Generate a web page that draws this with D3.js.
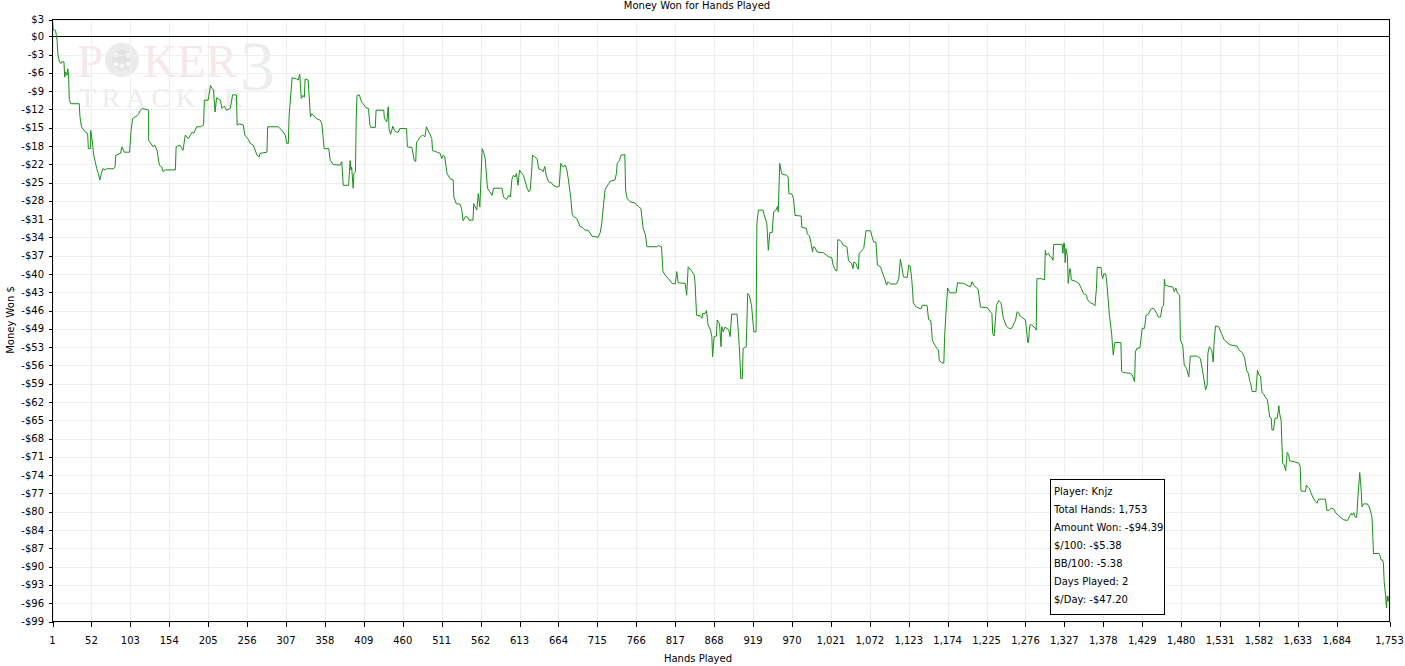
<!DOCTYPE html>
<html>
<head>
<meta charset="utf-8">
<script src="https://cdn.jsdelivr.net/npm/d3@7"></script>
<style>
	body { margin: 0; background: #fff; }
	svg { display: block; font-family: 'DejaVu Sans', sans-serif; font-size: 10px; }
</style>
</head>
<body>
<script>
// hand number / cumulative money won
const hands = [
	1, 2, 5, 7, 8, 10, 12, 13, 16, 17, 18, 20, 21, 22, 23, 25, 36, 37, 39, 44, 47, 48, 51, 51, 53, 55, 57, 59, 61, 63,
	65, 67, 70, 72, 81, 83, 84, 90, 92, 95, 102, 104, 106, 112, 114, 116, 119, 125, 127, 127, 133, 135, 138, 141, 144,
	146, 148, 162, 163, 168, 172, 175, 179, 184, 186, 190, 195, 199, 200, 205, 208, 210, 212, 214, 216, 221, 223, 226,
	229, 234, 237, 242, 243, 246, 251, 253, 258, 260, 264, 269, 272, 273, 282, 283, 297, 299, 301, 306, 308, 310, 311,
	315, 321, 323, 325, 327, 329, 331, 332, 336, 339, 341, 347, 352, 354, 357, 363, 365, 369, 378, 380, 382, 389, 391,
	392, 393, 395, 396, 398, 399, 400, 403, 406, 408, 412, 415, 417, 418, 424, 425, 435, 436, 439, 441, 442, 444, 447,
	449, 451, 454, 456, 465, 466, 472, 475, 477, 478, 480, 483, 486, 489, 491, 494, 496, 498, 499, 505, 509, 511, 513,
	515, 518, 522, 526, 527, 530, 535, 537, 539, 542, 545, 547, 552, 553, 557, 559, 561, 564, 566, 568, 571, 574, 577,
	579, 590, 592, 596, 599, 601, 603, 605, 607, 609, 611, 613, 616, 618, 623, 625, 627, 629, 630, 633, 636, 638, 642,
	644, 646, 648, 651, 655, 657, 662, 665, 667, 670, 673, 675, 677, 680, 682, 684, 688, 690, 692, 695, 699, 703, 708,
	716, 719, 721, 723, 725, 727, 730, 732, 738, 740, 741, 744, 746, 751, 752, 754, 758, 764, 769, 772, 775, 778, 780,
	793, 795, 799, 801, 804, 808, 813, 817, 819, 821, 830, 832, 834, 839, 842, 843, 845, 850, 852, 853, 856, 858, 860,
	863, 865, 866, 868, 871, 872, 875, 877, 878, 880, 882, 887, 889, 891, 898, 900, 901, 903, 905, 906, 910, 912, 914,
	917, 920, 923, 924, 926, 932, 934, 937, 939, 941, 944, 946, 949, 951, 952, 954, 956, 957, 963, 965, 966, 970, 972,
	974, 982, 983, 989, 990, 993, 995, 997, 998, 1000, 1003, 1011, 1015, 1018, 1022, 1024, 1027, 1029, 1030, 1033,
	1035, 1037, 1042, 1044, 1046, 1048, 1050, 1051, 1054, 1056, 1057, 1058, 1060, 1062, 1064, 1067, 1073, 1075, 1077,
	1080, 1082, 1086, 1088, 1092, 1094, 1096, 1099, 1107, 1110, 1112, 1114, 1116, 1121, 1123, 1125, 1127, 1128, 1129,
	1133, 1139, 1141, 1147, 1149, 1152, 1154, 1157, 1160, 1162, 1163, 1166, 1169, 1170, 1172, 1174, 1177, 1185, 1187,
	1195, 1199, 1204, 1206, 1208, 1214, 1217, 1226, 1230, 1232, 1233, 1235, 1238, 1241, 1244, 1247, 1251, 1254, 1258,
	1263, 1265, 1267, 1269, 1271, 1276, 1278, 1279, 1280, 1281, 1282, 1284, 1289, 1290, 1291, 1297, 1301, 1302, 1303,
	1306, 1308, 1311, 1312, 1313, 1324, 1325, 1326, 1327, 1328, 1329, 1331, 1332, 1334, 1335, 1336, 1341, 1346, 1349,
	1352, 1356, 1357, 1361, 1365, 1367, 1369, 1370, 1375, 1376, 1377, 1379, 1381, 1382, 1383, 1386, 1389, 1391, 1393,
	1401, 1402, 1405, 1413, 1416, 1418, 1419, 1420, 1422, 1426, 1429, 1432, 1434, 1437, 1440, 1443, 1445, 1448, 1450,
	1453, 1455, 1457, 1458, 1459, 1464, 1469, 1471, 1473, 1475, 1478, 1479, 1482, 1484, 1487, 1490, 1492, 1501, 1505,
	1507, 1510, 1512, 1514, 1515, 1517, 1520, 1522, 1523, 1525, 1529, 1533, 1536, 1544, 1553, 1556, 1560, 1563, 1564,
	1566, 1568, 1570, 1571, 1573, 1578, 1580, 1582, 1584, 1586, 1588, 1590, 1593, 1596, 1598, 1599, 1601, 1603, 1606,
	1608, 1609, 1611, 1612, 1613, 1615, 1617, 1619, 1621, 1622, 1629, 1634, 1636, 1637, 1643, 1644, 1646, 1648, 1650,
	1653, 1656, 1658, 1660, 1669, 1671, 1674, 1677, 1680, 1683, 1686, 1688, 1693, 1698, 1701, 1703, 1704, 1706, 1708,
	1710, 1712, 1714, 1715, 1716, 1717, 1719, 1724, 1727, 1730, 1731, 1732, 1739, 1741, 1742, 1744, 1745, 1746, 1748,
	1749, 1750, 1751, 1753,
];
const won = [
	2.7, 1.1, 1.0, -0.7, -2.9, -4.3, -4.6, -4.3, -4.3, -6.9, -6.0, -6.6, -5.5, -6.6, -10.7, -11.4, -11.4, -13.6, -15.3,
	-16.2, -16.4, -19.0, -19.0, -15.9, -17.6, -20.1, -21.2, -22.4, -23.2, -24.3, -23.2, -22.4, -22.6, -22.4, -22.4,
	-22.1, -20.1, -19.8, -18.7, -19.6, -19.6, -15.9, -13.9, -13.4, -13.1, -12.5, -12.2, -12.4, -12.5, -17.6, -18.7,
	-18.4, -19.3, -21.8, -22.1, -22.9, -22.6, -22.6, -18.7, -18.4, -19.3, -16.7, -17.3, -16.2, -16.4, -15.3, -15.3,
	-15.0, -10.8, -10.8, -8.3, -8.8, -9.1, -12.8, -10.4, -10.8, -12.2, -11.8, -12.5, -12.2, -9.9, -9.9, -15.0, -14.8,
	-15.0, -16.7, -17.5, -18.1, -18.4, -20.1, -20.4, -19.8, -19.6, -15.3, -15.3, -15.6, -15.8, -16.7, -18.1, -18.1,
	-13.6, -7.0, -7.2, -7.4, -6.4, -10.5, -10.0, -10.3, -7.2, -7.4, -13.6, -13.1, -13.9, -14.2, -14.8, -19.0, -19.0,
	-21.0, -21.7, -21.8, -21.2, -25.2, -25.2, -21.0, -22.6, -22.1, -25.7, -23.2, -22.9, -13.9, -10.0, -9.9, -11.1,
	-11.4, -12.1, -12.2, -15.0, -15.4, -15.4, -12.5, -12.5, -13.9, -14.5, -11.9, -15.6, -16.6, -15.2, -15.9, -16.2,
	-16.2, -15.6, -15.6, -18.7, -18.8, -21.0, -21.2, -17.9, -17.6, -17.0, -16.7, -17.0, -15.3, -16.2, -16.7, -17.3,
	-19.3, -19.6, -19.8, -20.7, -20.1, -20.4, -23.2, -24.1, -24.3, -27.2, -28.3, -28.4, -29.1, -31.2, -30.5, -30.6,
	-31.1, -31.1, -28.3, -29.4, -26.6, -28.9, -19.0, -19.6, -20.7, -25.7, -26.3, -26.9, -25.7, -25.7, -27.2, -27.6,
	-26.9, -27.2, -24.2, -23.5, -23.8, -23.2, -25.2, -22.6, -23.2, -23.5, -25.7, -26.3, -26.0, -22.6, -20.1, -20.4,
	-20.7, -22.4, -22.6, -22.9, -22.0, -23.5, -24.6, -24.8, -25.2, -25.5, -25.4, -21.5, -22.1, -21.8, -22.6, -24.2,
	-27.2, -30.1, -30.5, -30.8, -31.4, -32.1, -32.3, -32.8, -32.8, -33.8, -34.0, -33.1, -31.4, -28.6, -26.0, -25.5,
	-24.9, -24.5, -24.3, -23.2, -21.5, -21.0, -20.1, -20.0, -26.0, -27.4, -28.0, -28.2, -28.8, -29.1, -32.5, -33.6,
	-35.6, -35.6, -35.4, -35.6, -39.8, -40.4, -41.0, -41.8, -41.9, -39.8, -41.7, -41.8, -43.8, -39.0, -39.8, -40.4,
	-41.8, -47.2, -47.3, -47.7, -46.9, -46.9, -46.4, -48.8, -49.6, -50.8, -54.2, -50.8, -50.7, -48.0, -48.6, -52.5,
	-49.1, -50.0, -49.2, -49.6, -50.8, -47.0, -47.0, -50.5, -52.5, -57.9, -57.9, -52.8, -52.5, -43.5, -43.8, -45.5,
	-50.0, -50.0, -31.7, -29.4, -29.4, -30.4, -31.6, -36.2, -33.2, -33.2, -29.7, -29.4, -28.8, -29.7, -21.5, -22.9,
	-23.3, -23.5, -23.8, -26.6, -26.7, -27.4, -30.3, -30.4, -32.3, -32.5, -33.4, -33.8, -35.0, -36.5, -35.6, -35.7,
	-36.5, -36.6, -37.0, -37.3, -37.4, -38.7, -39.6, -39.7, -34.4, -34.5, -34.8, -35.3, -35.6, -37.9, -38.2, -38.4,
	-39.3, -38.2, -38.4, -39.3, -39.4, -36.7, -36.5, -36.2, -35.9, -32.9, -32.9, -33.9, -34.8, -34.8, -38.7, -39.0,
	-39.8, -41.2, -42.1, -41.5, -41.9, -41.9, -41.0, -37.7, -39.0, -40.7, -40.8, -38.7, -38.9, -41.2, -42.9, -45.1,
	-45.8, -46.1, -45.5, -45.5, -47.9, -48.1, -51.4, -52.2, -52.8, -53.1, -54.8, -55.2, -55.3, -50.8, -46.3, -42.6,
	-43.4, -43.4, -41.7, -41.8, -42.1, -42.4, -41.5, -42.1, -42.8, -45.8, -45.9, -46.6, -46.9, -50.3, -50.7, -45.5,
	-44.7, -45.1, -47.7, -49.0, -49.4, -49.4, -48.0, -46.6, -46.8, -47.3, -47.5, -48.0, -50.5, -51.8, -51.8, -49.7,
	-48.8, -48.8, -49.4, -49.7, -41.0, -41.0, -41.2, -36.2, -37.0, -36.7, -37.2, -37.5, -37.9, -35.2, -35.2, -36.7,
	-35.0, -35.0, -38.3, -35.9, -37.3, -41.8, -39.3, -39.4, -41.2, -41.4, -41.8, -42.6, -43.5, -43.8, -44.5, -45.1,
	-45.3, -45.6, -42.6, -39.1, -39.1, -40.4, -41.0, -40.1, -40.2, -41.0, -42.4, -47.2, -50.5, -53.9, -51.8, -51.8,
	-56.7, -56.9, -57.0, -57.3, -58.1, -58.4, -53.4, -52.8, -52.7, -49.4, -49.4, -47.2, -47.0, -46.2, -46.0, -46.2,
	-46.9, -47.5, -47.5, -45.8, -45.5, -41.1, -42.1, -42.3, -42.4, -43.2, -42.6, -43.4, -43.8, -51.4, -52.2, -55.6,
	-56.2, -57.6, -54.1, -54.1, -54.5, -55.8, -58.1, -59.8, -59.0, -53.6, -52.5, -53.1, -55.1, -52.1, -49.0, -49.1,
	-50.3, -51.3, -52.2, -52.4, -53.1, -53.5, -54.3, -55.1, -56.6, -57.0, -58.4, -58.7, -60.1, -60.1, -56.5, -57.3,
	-57.5, -60.3, -60.5, -61.0, -61.5, -64.4, -64.6, -66.6, -66.6, -64.6, -64.6, -62.5, -63.8, -65.0, -68.8, -72.2,
	-72.5, -73.5, -70.4, -70.8, -71.8, -72.0, -72.2, -72.8, -76.9, -77.0, -75.9, -76.3, -76.5, -77.2, -78.1, -78.7,
	-79.0, -78.3, -78.3, -80.2, -80.2, -79.8, -80.0, -80.7, -81.0, -81.3, -81.8, -81.9, -81.1, -80.7, -81.0, -80.6,
	-81.3, -81.4, -77.3, -73.8, -75.3, -77.0, -79.6, -79.1, -79.1, -79.8, -81.3, -84.1, -87.5, -87.5, -88.0, -88.6,
	-88.6, -89.1, -92.2, -94.8, -96.7, -94.7, -95.6, -94.39,
];

const xTicks = [1, 52, 103, 154, 205, 256, 307, 358, 409, 460, 511, 562, 613, 664, 715, 766, 817, 868, 919, 970,
	1021, 1072, 1123, 1174, 1225, 1276, 1327, 1378, 1429, 1480, 1531, 1582, 1633, 1684, 1753];
const yTickLabels = ['$0', '-$3', '-$6', '-$9', '-$12', '-$15', '-$18', '-$22', '-$25', '-$28', '-$31', '-$34', '-$37',
	'-$40', '-$43', '-$46', '-$49', '-$53', '-$56', '-$59', '-$62', '-$65', '-$68', '-$71', '-$74', '-$77', '-$80',
	'-$84', '-$87', '-$90', '-$93', '-$96', '-$99'];
const yTopLabel = '$3';
const yMin = -99;
const yMax = 2.85;

const statLines = ['Player: Knjz', 'Total Hands: 1,753', 'Amount Won: -$94.39', '$/100: -$5.38', 'BB/100: -5.38',
	'Days Played: 2', '$/Day: -$47.20'];

const width = 1405;
const height = 666;
const plotLeft = 52.5, plotRight = 1389.5, plotTop = 19.5, plotBottom = 621.5;

const x = d3.scaleLinear().domain([1, 1753]).range([plotLeft, plotRight]);
const y = d3.scaleLinear().domain([yMin, yMax]).range([plotBottom, plotTop]);

// evenly spaced ticks from $0 down to the bottom, plus the top edge
const yTicks = yTickLabels.map((label, i) => ({ label, value: (yMin * i) / (yTickLabels.length - 1) }));
yTicks.unshift({ label: yTopLabel, value: yMax });

const svg = d3.select('body').append('svg').attr('width', width).attr('height', height);
svg.append('rect').attr('width', width).attr('height', height).attr('fill', '#fff');

// faint PokerTracker 3 watermark
const wm = svg.append('g').attr('font-family', "'Liberation Serif', serif");
wm.append('text').attr('x', 77).attr('y', 77).attr('font-size', 47).attr('fill', '#f6e7e9').text('P');
wm.append('text').attr('x', 143).attr('y', 77).attr('font-size', 47).attr('fill', '#f6e7e9').text('KER');
wm.append('circle').attr('cx', 122).attr('cy', 60).attr('r', 17).attr('fill', '#ebebeb');
wm.append('circle').attr('cx', 122).attr('cy', 60).attr('r', 10).attr('fill', '#e2e2e2');
[[-6, -5], [6, -5], [0, 6], [-6, 4], [6, 4]].forEach(([dx, dy]) =>
	wm.append('circle').attr('cx', 122 + dx).attr('cy', 60 + dy).attr('r', 2.5).attr('fill', '#f4f4f4'));
wm.append('text').attr('x', 240).attr('y', 90).attr('font-size', 70).attr('fill', '#ebefeb').text('3');
wm.append('text').attr('x', 79).attr('y', 107).attr('font-size', 28).attr('letter-spacing', 5.5)
	.attr('fill', '#ededed').text('TRACKER');

// grid
const grid = svg.append('g').attr('stroke', '#efefef').attr('shape-rendering', 'crispEdges');
grid.selectAll('.vg').data(xTicks).join('line').attr('class', 'vg')
	.attr('x1', (d) => Math.round(x(d)) + 0.5).attr('x2', (d) => Math.round(x(d)) + 0.5)
	.attr('y1', plotTop).attr('y2', plotBottom);
grid.selectAll('.hg').data(yTicks).join('line').attr('class', 'hg')
	.attr('x1', plotLeft).attr('x2', plotRight)
	.attr('y1', (d) => Math.round(y(d.value)) + 0.5).attr('y2', (d) => Math.round(y(d.value)) + 0.5);

// zero line
svg.append('line').attr('x1', plotLeft).attr('x2', plotRight)
	.attr('y1', Math.round(y(0)) + 0.5).attr('y2', Math.round(y(0)) + 0.5)
	.attr('stroke', '#000').attr('shape-rendering', 'crispEdges');

const line = d3.line().x((d, i) => x(hands[i])).y((d) => y(d));
svg.append('path').datum(won).attr('d', line).attr('fill', 'none').attr('stroke', '#1a8f1a').attr('stroke-width', 1);

// frame
svg.append('rect').attr('x', plotLeft).attr('y', plotTop)
	.attr('width', plotRight - plotLeft).attr('height', plotBottom - plotTop)
	.attr('fill', 'none').attr('stroke', '#000').attr('shape-rendering', 'crispEdges');

// y axis
const yAxis = svg.append('g');
yAxis.selectAll('line').data(yTicks).join('line')
	.attr('x1', plotLeft - 4).attr('x2', plotLeft)
	.attr('y1', (d) => Math.round(y(d.value)) + 0.5).attr('y2', (d) => Math.round(y(d.value)) + 0.5)
	.attr('stroke', '#000').attr('shape-rendering', 'crispEdges');
yAxis.selectAll('text').data(yTicks).join('text')
	.attr('x', 44).attr('y', (d) => y(d.value)).attr('dy', '0.35em').attr('text-anchor', 'end')
	.text((d) => d.label);

// x axis
const xAxis = svg.append('g');
xAxis.selectAll('line').data(xTicks).join('line')
	.attr('x1', (d) => Math.round(x(d)) + 0.5).attr('x2', (d) => Math.round(x(d)) + 0.5)
	.attr('y1', plotBottom).attr('y2', plotBottom + 5)
	.attr('stroke', '#000').attr('shape-rendering', 'crispEdges');
xAxis.selectAll('text').data(xTicks).join('text')
	.attr('x', (d) => x(d)).attr('y', 644).attr('text-anchor', 'middle')
	.text(d3.format(','));

svg.append('text').attr('x', 698).attr('y', 662).attr('text-anchor', 'middle').text('Hands Played');
svg.append('text').attr('transform', 'translate(14,320) rotate(-90)').attr('text-anchor', 'middle')
	.text('Money Won $');
svg.append('text').attr('x', 697).attr('y', 9).attr('text-anchor', 'middle').text('Money Won for Hands Played');

// stats box
const box = svg.append('g');
box.append('rect').attr('x', 1050.5).attr('y', 479.5).attr('width', 114).attr('height', 135)
	.attr('fill', '#fff').attr('stroke', '#000').attr('shape-rendering', 'crispEdges');
box.selectAll('text').data(statLines).join('text')
	.attr('x', 1054).attr('y', (d, i) => 495 + i * 18).text((d) => d);
</script>
</body>
</html>
